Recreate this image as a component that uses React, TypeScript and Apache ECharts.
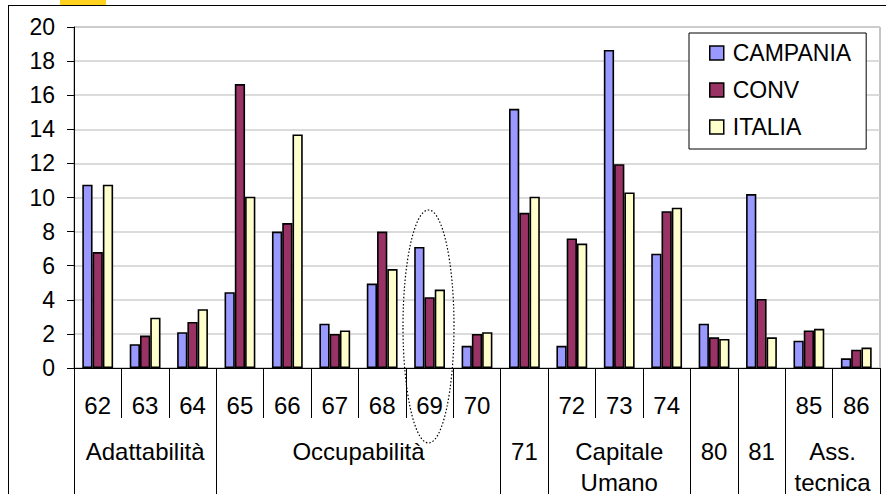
import React, { useEffect, useRef } from 'react';
import * as echarts from 'echarts';

const categories = ['62', '63', '64', '65', '66', '67', '68', '69', '70', '71', '72', '73', '74', '80', '81', '85', '86'];
const level1Labels = ['62', '63', '64', '65', '66', '67', '68', '69', '70', '', '72', '73', '74', '', '', '85', '86'];
const groupNames = ['Adattabilità', 'Occupabilità', '71', 'Capitale\nUmano', '80', '81', 'Ass.\ntecnica'];
const groupSizes = [3, 6, 1, 3, 1, 1, 2];
const seriesNames = ['CAMPANIA', 'CONV', 'ITALIA'];
const campania = [10.75, 1.4, 2.1, 4.45, 8.0, 2.6, 4.95, 7.1, 1.3, 15.2, 1.3, 18.65, 6.7, 2.6, 10.2, 1.6, 0.57];
const conv = [6.8, 1.9, 2.7, 16.65, 8.5, 2.0, 8.0, 4.15, 2.0, 9.1, 7.6, 11.95, 9.2, 1.8, 4.05, 2.2, 1.07];
const italia = [10.75, 2.95, 3.45, 10.05, 13.7, 2.2, 5.8, 4.6, 2.1, 10.05, 7.3, 10.3, 9.4, 1.7, 1.8, 2.3, 1.2];
const yTicks = [0, 2, 4, 6, 8, 10, 12, 14, 16, 18, 20];

const FONT = "'Liberation Sans', Arial, sans-serif";
const colors = ['#9999ff', '#993366', '#ffffcc'];

export default function App() {
  const ref = useRef<HTMLDivElement>(null);

  useEffect(() => {
    if (!ref.current) return;
    const chart = echarts.init(ref.current, undefined, { renderer: 'svg' });

    const groupStarts: number[] = [];
    const groupCenterMap: Record<string, string> = {};
    let acc = 0;
    groupSizes.forEach((s, i) => {
      groupStarts.push(acc);
      groupCenterMap[String(acc + s / 2)] = groupNames[i];
      acc += s;
    });

    const dataSets = [campania, conv, italia];

    chart.setOption({
      animation: false,
      textStyle: { fontFamily: FONT },
      grid: {
        left: 74,
        top: 27,
        right: 6,
        bottom: 132,
        show: true,
        borderColor: '#8a8a8a',
        borderWidth: 1,
        containLabel: false,
      },
      legend: {
        orient: 'vertical',
        left: 689,
        top: 33,
        itemWidth: 14,
        itemHeight: 14,
        itemGap: 13,
        padding: [8, 15, 10, 20],
        borderColor: '#000',
        borderWidth: 1,
        backgroundColor: '#fff',
        icon: 'rect',
        data: seriesNames,
        itemStyle: { borderColor: '#000', borderWidth: 1.5 },
        textStyle: { fontSize: 23, lineHeight: 24, color: '#000', fontFamily: FONT, padding: [0, 0, 0, 4] },
      },
      xAxis: [
        {
          type: 'category',
          data: categories,
          position: 'bottom',
          axisLine: { show: true, onZero: false, lineStyle: { color: '#000', width: 1 } },
          axisTick: { show: true, interval: 0, length: 50, lineStyle: { color: '#000', width: 1 } },
          axisLabel: {
            interval: 0,
            formatter: (_v: string, i: number) => level1Labels[i],
            margin: 25,
            fontSize: 24,
            lineHeight: 24,
            color: '#000',
            fontFamily: FONT,
          },
          splitLine: { show: false },
        },
        {
          type: 'category',
          data: categories,
          position: 'bottom',
          axisLine: { show: false, onZero: false },
          axisTick: {
            show: true,
            interval: (i: number) => groupStarts.includes(i),
            length: 126,
            lineStyle: { color: '#000', width: 1 },
          },
          axisLabel: { show: false },
          splitLine: { show: false },
        },
        {
          type: 'value',
          min: 0,
          max: categories.length,
          interval: 0.5,
          position: 'bottom',
          axisLine: { show: false, onZero: false },
          axisTick: { show: false },
          splitLine: { show: false },
          axisLabel: {
            show: true,
            showMinLabel: true,
            showMaxLabel: true,
            formatter: (v: number) => groupCenterMap[String(v)] ?? '',
            margin: 68,
            fontSize: 24,
            lineHeight: 31,
            color: '#000',
            fontFamily: FONT,
          },
        },
      ],
      yAxis: {
        type: 'value',
        min: 0,
        max: yTicks[yTicks.length - 1],
        interval: yTicks[1] - yTicks[0],
        axisLine: { show: true, lineStyle: { color: '#000', width: 1 } },
        axisTick: { show: true, length: 7, lineStyle: { color: '#000' } },
        axisLabel: { fontSize: 23, margin: 19, color: '#000', fontFamily: FONT },
        splitLine: { show: true, lineStyle: { color: '#cfcfcf', width: 1.5 } },
      },
      series: seriesNames.map((name, k) => ({
        name,
        type: 'bar',
        xAxisIndex: 0,
        yAxisIndex: 0,
        data: dataSets[k],
        barGap: '0%',
        barCategoryGap: '35%',
        itemStyle: { color: colors[k], borderColor: '#000', borderWidth: 1.6 },
      })),
      graphic: [
        { type: 'rect', shape: { x: 60, y: 0, width: 46, height: 6 }, style: { fill: '#ffd21f' }, z: 10 },
        { type: 'line', shape: { x1: 8, y1: 5.5, x2: 886, y2: 5.5 }, style: { stroke: '#000', lineWidth: 1 }, z: 10 },
        { type: 'line', shape: { x1: 8.5, y1: 5, x2: 8.5, y2: 494 }, style: { stroke: '#000', lineWidth: 1 }, z: 10 },
        {
          type: 'ellipse',
          shape: { cx: 428.5, cy: 326.5, rx: 25.5, ry: 116.5 },
          style: { fill: 'none', stroke: '#000', lineWidth: 1.2, lineDash: [1.5, 2] },
          z: 100,
        },
      ],
    });

    return () => chart.dispose();
  }, []);

  return (
    <div
      ref={ref}
      style={{ position: 'fixed', left: 0, top: 0, width: 886, height: 500, background: '#fff' }}
    />
  );
}
